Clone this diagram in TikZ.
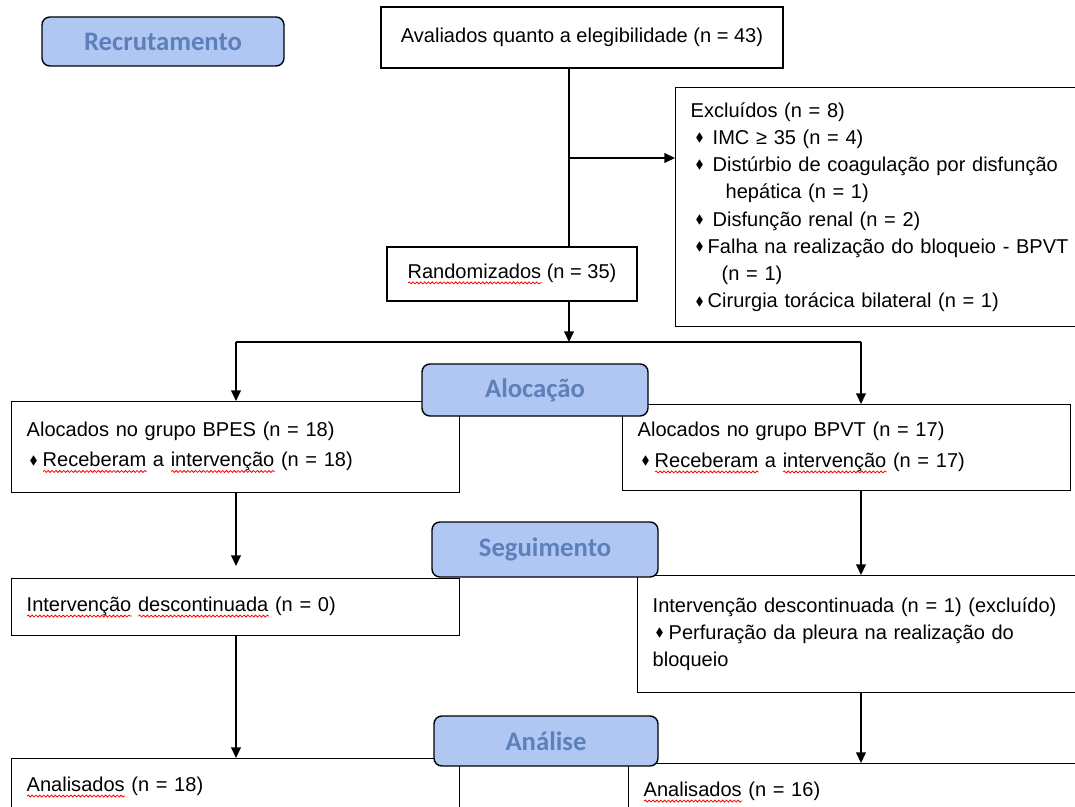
\documentclass[tikz,border=0pt]{standalone}
\usepackage{fontspec}
\usepackage{amssymb}
\setmainfont{Liberation Sans}
\newfontfamily\hdrfont{Carlito}
\usetikzlibrary{arrows.meta,positioning,decorations.pathmorphing}
\definecolor{hdrfill}{RGB}{176,199,244}
\definecolor{hdrtext}{RGB}{93,128,186}
\newcommand{\dmd}{\raisebox{0.25ex}{\scalebox{0.6}{$\blacklozenge$}}}
\newsavebox{\sqbox}
\newlength{\sqlen}
\newcommand{\sq}[1]{\sbox{\sqbox}{#1}\setlength{\sqlen}{\wd\sqbox}\rlap{\tikz[baseline=0pt]\draw[red, line width=0.45pt, decorate, decoration={snake, amplitude=0.55pt, segment length=2.2pt}] (0,-2.6pt) -- (\sqlen,-2.6pt);}\usebox{\sqbox}}
\tikzset{
  phasebox/.style={draw, rounded corners=4.5pt, fill=hdrfill, line width=0.8pt, text=hdrtext, font=\hdrfont\bfseries\fontsize{15.2}{18}\selectfont},
  flowbox/.style={draw, fill=white, line width=0.8pt, anchor=north west, inner xsep=0.3cm, align=left, font=\fontsize{11.4}{15.5}\selectfont},
  midbox/.style={draw, fill=white, line width=0.8pt, font=\fontsize{11.4}{15.5}\selectfont},
  cline/.style={-{Triangle[length=6pt,width=5.5pt]}, line width=0.8pt},
  pline/.style={line width=0.8pt},
}

\begin{document}
\begin{tikzpicture}
  \useasboundingbox (0,0) rectangle (21.5,-16.14);

  \node[midbox, minimum width=8.04cm, minimum height=1.22cm] (aval) at (11.64,-0.75) {Avaliados quanto a elegibilidade (n = 43)};
  \node[midbox, minimum width=5.0cm, minimum height=1.08cm] (rand) at (10.24,-5.48) {\sq{Randomizados} (n = 35)};

  \node[flowbox, text width=8.1cm, minimum height=4.78cm] (excl) at (13.5,-1.74) {Excluídos (n = 8)\\
    \hspace*{0.1cm}\dmd\hspace{0.18cm}IMC ≥ 35 (n = 4)\\
    \hspace*{0.1cm}\dmd\hspace{0.18cm}Distúrbio de coagulação por disfunção\\
    \hspace*{0.7cm}hepática (n = 1)\\
    \hspace*{0.1cm}\dmd\hspace{0.18cm}Disfunção renal (n = 2)\\
    \hspace*{0.1cm}\dmd\hspace{0.08cm}Falha na realização do bloqueio - BPVT\\
    \hspace*{0.62cm}(n = 1)\\
    \hspace*{0.1cm}\dmd\hspace{0.08cm}Cirurgia torácica bilateral (n = 1)};

  \node[flowbox, text width=8.36cm, minimum height=1.82cm] (bpes) at (0.22,-8.02) {Alocados no grupo BPES (n = 18)\\[2pt]
    \hspace*{0.06cm}\dmd\hspace{0.1cm}\sq{Receberam} a \sq{intervenção} (n = 18)};
  \node[flowbox, text width=8.36cm, minimum height=1.72cm] (bpvt) at (12.44,-8.08) {Alocados no grupo BPVT (n = 17)\\[2pt]
    \hspace*{0.08cm}\dmd\hspace{0.1cm}\sq{Receberam} a \sq{intervenção} (n = 17)};

  \node[flowbox, text width=8.36cm, minimum height=1.14cm] (discL) at (0.22,-11.56) {\sq{Intervenção} \sq{descontinuada} (n = 0)};
  \node[flowbox, text width=8.7cm, minimum height=2.34cm] (discR) at (12.74,-11.5) {Intervenção descontinuada (n = 1) (excluído)\\
    \hspace*{0.06cm}\dmd\hspace{0.1cm}Perfuração da pleura na realização do\\
    bloqueio};

  \node[flowbox, text width=8.36cm, minimum height=1.14cm] (anaL) at (0.22,-15.16) {\sq{Analisados} (n = 18)};
  \node[flowbox, text width=8.7cm, minimum height=1.14cm] (anaR) at (12.56,-15.26) {\sq{Analisados} (n = 16)};

  % phase labels
  \node[phasebox, minimum width=4.84cm, minimum height=0.98cm] (recr) at (3.26,-0.83) {Recrutamento};
  \node[phasebox, minimum width=4.52cm, minimum height=1.04cm] (aloc) at (10.7,-7.8) {Alocação};
  \node[phasebox, minimum width=4.52cm, minimum height=1.1cm] (segu) at (10.9,-10.99) {Seguimento};
  \node[phasebox, minimum width=4.48cm, minimum height=1.0cm] (anal) at (10.92,-14.82) {Análise};

  \coordinate (exj) at (11.38,-3.16);
  \coordinate (split) at (11.38,-6.84);
  \coordinate (lcol) at (4.72,-6.84);
  \coordinate (rcol) at (17.22,-6.84);

  \draw[pline] (aval.south -| exj) -- (rand.north -| exj);
  \draw[cline] (exj) -- (exj -| excl.west);
  \draw[cline] (rand.south -| split) -- (split);
  \draw[pline] (lcol) -- (rcol);
  \draw[cline] (lcol) -- (lcol |- bpes.north);
  \draw[cline] (rcol) -- (rcol |- bpvt.north);
  \draw[cline, shorten >=0.24cm] (lcol |- bpes.south) -- (lcol |- discL.north);
  \draw[cline] (rcol |- bpvt.south) -- (rcol |- discR.north);
  \draw[cline] (lcol |- discL.south) -- (lcol |- anaL.north);
  \draw[cline] (rcol |- discR.south) -- (rcol |- anaR.north);
\end{tikzpicture}
\end{document}
